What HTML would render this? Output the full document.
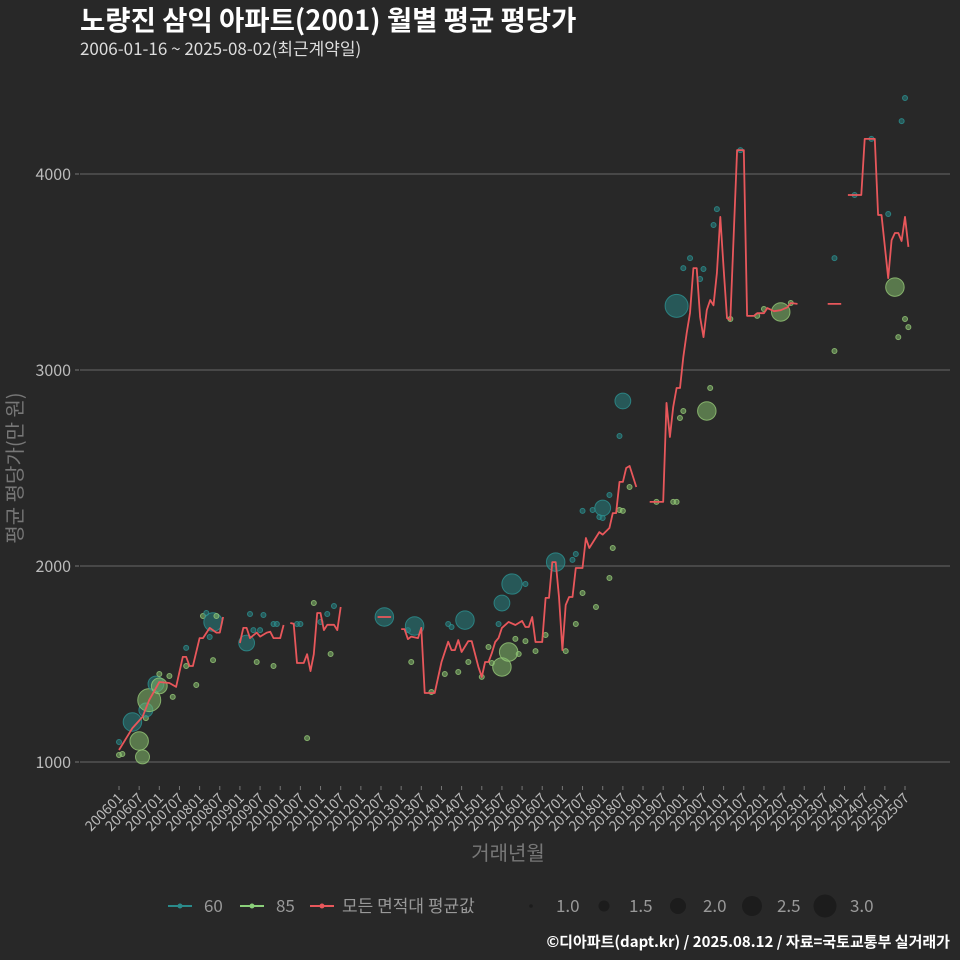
<!DOCTYPE html>
<html><head><meta charset="utf-8">
<style>
html,body{margin:0;padding:0;background:#282828;}
svg{display:block;font-family:"Noto Sans CJK KR","Liberation Sans",sans-serif;}
</style></head>
<body>
<svg id="chart" width="960" height="960" viewBox="0 0 960 960" xmlns="http://www.w3.org/2000/svg">
<rect x="0" y="0" width="960" height="960" fill="#282828"/>
<text x="80" y="30" fill="#ffffff" font-size="27.5" font-weight="bold">노량진 삼익 아파트(2001) 월별 평균 평당가</text>
<text x="80" y="55" fill="#dddddd" font-size="17">2006-01-16 ~ 2025-08-02(최근계약일)</text>
<g id="grid"></g>
<g id="yaxis"></g>
<g id="xaxis"></g>
<g id="points"></g>
<g id="line"></g>
<text transform="translate(22,468) rotate(-90)" text-anchor="middle" fill="#777777" font-size="20">평균 평당가(만 원)</text>
<text x="508" y="860" text-anchor="middle" fill="#777777" font-size="20">거래년월</text>
<g id="legend"></g>
<text x="950" y="947" text-anchor="end" fill="#ffffff" font-size="15" font-weight="bold">©디아파트(dapt.kr) / 2025.08.12 / 자료=국토교통부 실거래가</text>
</svg>
<script>
// y ticks
const yTicks = [1000, 2000, 3000, 4000];
// x tick labels (every 6 months from 2006-01)
const xTickLabels = [];
for (let y = 2006; y <= 2025; y++) { xTickLabels.push(y + "01"); xTickLabels.push(y + "07"); }
// average line: month index from 2006-01, null value = gap
const lineMonth = [0,4,7,9,12,15,17,19,20,21,22,24,25,27,29,30,31,32,
36,37,38,39,41,42,44,45,46,48,49,50,
51,52,53,55,56,57,58,59,60,61,62,64,65,66,67,
77,81,82,
84,85,86,87,89,90,91,94,96,98,99,100,101,102,104,105,107,108,109,110,111,112,113,114,116,118,120,121,122,123,124,126,127,128,129,130,131,132,133,134,135,136,138,139,140,143,144,146,147,148,149,150,151,152,154,155,
158,162,163,164,165,166,167,168,169,170,171,172,173,174,175,176,177,178,179,180,181,182,183,184,186,187,188,189,190,192,193,195,197,199,200,202,203,
211,215,216,
217,221,222,225,226,227,229,230,231,232,233,234,235];
const lineValue = [1061,1173,1230,1316,1408,1403,1383,1536,1536,1490,1490,1632,1632,1684,1660,1660,1740,null,
1607,1684,1684,1632,1660,1640,1660,1665,1632,1632,1699,null,
1709,1705,1505,1505,1550,1464,1550,1760,1760,1673,1700,1700,1673,1791,null,
1740,1740,null,
1678,1678,1627,1640,1632,1684,1352,1352,1510,1614,1571,1571,1622,1561,1617,1617,1485,1434,1510,1510,1555,1612,1633,1684,1715,1699,1720,1689,1689,1740,1612,1612,1837,1837,2020,2020,1842,1571,1801,1842,1842,1990,1990,2143,2092,2173,2160,2194,2270,2270,2429,2429,2500,2510,2403,null,
2327,2327,2832,2658,2811,2908,2908,3066,3189,3291,3520,3520,3270,3168,3306,3357,3330,3495,3781,3520,3265,3255,3689,4122,4122,3276,3276,3276,3290,3290,3316,3300,3305,3320,3342,3337,null,
3337,3337,null,
3893,3893,4179,4179,3791,3791,3469,3663,3699,3699,3658,3781,3628];
// scatter points
const ptMonth = [0,1,0,4,6,7,8,8,9,11,12,12,15,16,20,20,23,25,26,28,27,29,28,38,39,41,43,40,42,46,46,47,53,54,56,58,60,62,63,64,79,86,87,88,93,98,99,97,101,103,104,108,110,111,113,114,114,116,117,118,119,121,121,124,127,130,133,135,136,136,138,142,138,141,143,144,144,146,146,147,149,150,152,150,149,160,165,166,166,168,170,174,173,177,178,175,176,168,167,182,185,190,192,197,200,213,213,219,224,229,231,234,233,234,235,232];
const ptValue = [1036,1041,1102,1204,1107,1026,1224,1265,1316,1398,1388,1449,1439,1332,1582,1490,1393,1745,1760,1714,1638,1745,1520,1607,1755,1510,1750,1673,1673,1490,1704,1704,1704,1704,1122,1811,1714,1755,1551,1796,1740,1673,1510,1694,1357,1704,1689,1449,1459,1724,1510,1434,1587,1505,1704,1811,1485,1561,1908,1628,1551,1617,1908,1566,1648,2020,1566,2031,2061,1704,1862,1791,2281,2286,2250,2245,2296,2362,1939,2092,2286,2281,2403,2842,2663,2327,2327,2327,3327,3520,3571,3515,3464,3740,3821,2791,2908,2791,2755,3260,4122,3276,3311,3296,3342,3571,3097,3893,4179,3796,3423,4388,4270,3260,3219,3168];
const ptCount = [1,1,1,2.5,2.5,2,1,2,3,2.2,2.2,1,1,1,1,1,1,1,1,2.5,1,1,1,2.2,1,1,1,1,1,1,1,1,1,1,1,1,1,1,1,1,2.5,1,1,2.5,1,1,1,1,1,2.5,1,1,1,1,1,2.2,2.5,2.5,2.7,1,1,1,1,1,1,2.5,1,1,1,1,1,1,1,1,1,1,2.2,1,1,1,1,1,1,2.2,1,1,1,1,3,1,1,1,1,1,1,2.5,1,1,1,1,1,1,1,2.5,1,1,1,1,1,1,2.5,1,1,1,1,1];
const ptType = ["85","85","60","60","85","85","85","60","85","60","85","85","85","85","60","85","85","85","60","60","60","85","85","60","60","85","60","60","60","85","60","60","60","60","85","85","60","60","85","60","60","60","85","60","85","60","60","85","85","60","85","85","85","85","60","60","85","85","60","85","85","85","60","85","85","60","85","60","60","85","85","85","60","60","60","60","60","60","85","85","85","85","85","60","60","85","85","85","60","60","60","60","60","60","60","85","85","85","85","85","60","85","85","85","85","60","85","60","60","60","85","60","60","85","85","85"];

const NS = "http://www.w3.org/2000/svg";
function xs(m){ return 119 + m * 3.359; }
function ys(v){ return 762 - (v - 1000) * 0.196; }
function mk(tag, attrs, parent){ const e = document.createElementNS(NS, tag); for (const k in attrs) e.setAttribute(k, attrs[k]); parent.appendChild(e); return e; }

const grid = document.getElementById('grid');
const yaxis = document.getElementById('yaxis');
yTicks.forEach(t => {
  const g = mk('line', {x1:80, x2:950, y1:ys(t), y2:ys(t), stroke:'#5c5c5c', 'stroke-width':1.2}, grid);
  
  
  const tk = mk('line', {x1:75, x2:79, y1:ys(t), y2:ys(t), stroke:'#777', 'stroke-width':1}, yaxis);
  
  
  const tx = mk('text', {x:71, y:ys(t)+6, 'text-anchor':'end', fill:'#bbbbbb', 'font-size':16}, yaxis);
  
  
  tx.textContent = t;
});
const xaxis = document.getElementById('xaxis');
xTickLabels.forEach((lab, i) => {
  if (i >= 40) return;
  const x = xs(i * 6);
  const tk = mk('line', {x1:x, x2:x, y1:786, y2:790, stroke:'#777', 'stroke-width':1}, xaxis);
  
  
  const tx = mk('text', {transform:'translate(' + (x+5) + ',799) rotate(-45)', 'text-anchor':'end', fill:'#bbbbbb', 'font-size':14}, xaxis);
  
  
  tx.textContent = lab;
});

function rad(c){ return 2.5 + (c - 1) * 4.5; }
const pts = document.getElementById('points');
ptMonth.forEach((m, i) => {
  const teal = ptType[i] === "60";
  const c = mk('circle', {cx:xs(m), cy:ys(ptValue[i]), r:rad(ptCount[i]),
    fill: teal ? 'rgba(38,128,128,0.55)' : 'rgba(130,185,105,0.55)',
    stroke: teal ? 'rgba(45,145,145,0.8)' : 'rgba(150,200,120,0.8)', 'stroke-width':1}, pts);
  
  
});

const lineG = document.getElementById('line');
let d = '', pen = false;
lineMonth.forEach((m, i) => {
  const v = lineValue[i];
  if (v === null) { pen = false; return; }
  d += (pen ? 'L' : 'M') + xs(m).toFixed(1) + ' ' + ys(v).toFixed(1) + ' ';
  pen = true;
});
const p = mk('path', {d:d, fill:'none', stroke:'#e8575b', 'stroke-width':1.8, 'stroke-linejoin':'round'}, lineG);



// legend
const lg = document.getElementById('legend');
const legItems = [['60','#2a8a8a',168,204],['85','#8bd07a',240,276],['모든 면적대 평균값','#e8575b',310,342]];
legItems.forEach(it => {
  const g = mk('g', {}, lg);
  
  
  mk('line', {x1:it[2], x2:it[2]+24, y1:906, y2:906, stroke:it[1], 'stroke-width':2}, g);
  mk('circle', {cx:it[2]+12, cy:906, r:2.5, fill:it[1]}, g);
  const t = mk('text', {x:it[3], y:912, fill:'#999999', 'font-size':17}, g);
  t.textContent = it[0];
});
const sizeLeg = [1.0, 1.5, 2.0, 2.5, 3.0];
const sizeX = [531, 604, 678, 752, 825];
sizeLeg.forEach((s, i) => {
  const g = mk('g', {}, lg);
  
  
  mk('circle', {cx:sizeX[i], cy:906, r:[1.8,5.5,8,10,11.5][i], fill:'#1c1c1c'}, g);
  const t = mk('text', {x:sizeX[i]+25, y:912, fill:'#999999', 'font-size':17}, g);
  t.textContent = s.toFixed(1);
});
</script>
</body></html>
